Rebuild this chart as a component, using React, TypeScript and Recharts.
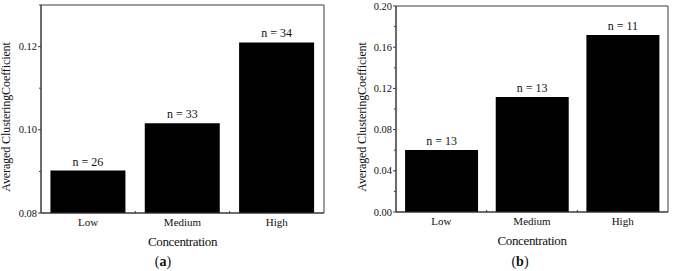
import { BarChart, Bar, XAxis, YAxis, LabelList, ReferenceArea } from 'recharts';

const categories = ['Low', 'Medium', 'High'];
const valuesA = [0.0902, 0.1016, 0.121];
const countsA = [26, 33, 34];
const valuesB = [0.0602, 0.1117, 0.1718];
const countsB = [13, 13, 11];

const majorTicksA = [0.08, 0.1, 0.12];
const minorTicksA = [0.09, 0.11, 0.13];
const majorTicksB = [0, 0.04, 0.08, 0.12, 0.16, 0.2];
const minorTicksB = [0.02, 0.06, 0.1, 0.14, 0.18];

const FONT = "'Liberation Serif', 'Times New Roman', serif";
const FRAME = '#3a3a3a';
const INK = '#111';

const YTick = (props: any) => {
  const { x, y, payload, majors } = props;
  const major = majors.includes(payload.value);
  return (
    <g>
      <line x1={x} x2={x - (major ? 3 : 2)} y1={y} y2={y} stroke={FRAME} />
      {major && (
        <text x={x - 4} y={y} dy="0.35em" textAnchor="end" fill={INK} style={{ fontFamily: FONT, fontSize: 10.5 }}>
          {payload.value.toFixed(2)}
        </text>
      )}
    </g>
  );
};

const XTick = (props: any) => {
  const { x, y, payload, index, step } = props;
  return (
    <g>
      <text x={x} y={y + 13} textAnchor="middle" fill={INK} style={{ fontFamily: FONT, fontSize: 11 }}>
        {payload.value}
      </text>
      {index < categories.length - 1 && (
        <line x1={x + step / 2} x2={x + step / 2} y1={y} y2={y - 2} stroke={FRAME} />
      )}
    </g>
  );
};

type PanelProps = {
  values: number[];
  counts: number[];
  majors: number[];
  minors: number[];
  domain: [number, number];
  width: number;
  top: number;
  bottom: number;
  right: number;
  axisWidth: number;
  labelX: number;
};

function Panel({ values, counts, majors, minors, domain, width, top, bottom, right, axisWidth, labelX }: PanelProps) {
  const data = categories.map((name, i) => ({ name, value: values[i], n: counts[i] }));
  const ticks = [...majors, ...minors].sort((a, b) => a - b);
  const height = 271;
  const step = (width - axisWidth - right) / categories.length;

  return (
    <BarChart
      width={width}
      height={height}
      data={data}
      margin={{ top, right, bottom: 0, left: 0 }}
      barCategoryGap="10%"
      style={{ fontFamily: FONT }}
    >
      <ReferenceArea y1={domain[0]} y2={domain[1]} fill="none" stroke={FRAME} strokeWidth={1} ifOverflow="visible" />
      <XAxis
        dataKey="name"
        height={height - bottom}
        stroke={FRAME}
        tickSize={0}
        tickMargin={0}
        tickLine={false}
        interval={0}
        tick={<XTick step={step} />}
        label={(p: any) => {
          const vb = p.viewBox || {};
          return (
            <text
              x={vb.x + vb.width / 2}
              y={vb.y + 33}
              textAnchor="middle"
              fill={INK}
              style={{ fontFamily: FONT, fontSize: 13, letterSpacing: -0.35 }}
            >
              Concentration
            </text>
          );
        }}
      />
      <YAxis
        type="number"
        domain={domain}
        ticks={ticks}
        interval={0}
        width={axisWidth}
        stroke={FRAME}
        tickSize={0}
        tickMargin={0}
        tickLine={false}
        tick={<YTick majors={majors} />}
        label={() => (
          <text
            x={labelX}
            y={117}
            transform={`rotate(-90, ${labelX}, 117)`}
            textAnchor="middle"
            fill={INK}
            style={{ fontFamily: FONT, fontSize: 12, letterSpacing: -0.1 }}
          >
            Averaged ClusteringCoefficient
          </text>
        )}
      />
      <Bar dataKey="value" fill="#000" isAnimationActive={false}>
        <LabelList
          dataKey="n"
          position="top"
          offset={5}
          formatter={(v: any) => `n = ${v}`}
          fill={INK}
          style={{ fontFamily: FONT, fontSize: 12 }}
        />
      </Bar>
    </BarChart>
  );
}

export default function App() {
  return (
    <div
      style={{
        position: 'absolute',
        left: 0,
        top: 0,
        width: 675,
        height: 271,
        background: '#fff',
        fontFamily: FONT,
        overflow: 'hidden',
      }}
    >
      <div style={{ position: 'absolute', left: 0, top: 0 }}>
        <Panel
          values={valuesA}
          counts={countsA}
          majors={majorTicksA}
          minors={minorTicksA}
          domain={[0.08, 0.13]}
          width={337}
          top={5}
          bottom={213}
          right={13}
          axisWidth={41}
          labelX={10}
        />
      </div>
      <div style={{ position: 'absolute', left: 337, top: 0 }}>
        <Panel
          values={valuesB}
          counts={countsB}
          majors={majorTicksB}
          minors={minorTicksB}
          domain={[0, 0.2]}
          width={338}
          top={6}
          bottom={212}
          right={7}
          axisWidth={59}
          labelX={29}
        />
      </div>
      <div style={{ position: 'absolute', left: 143, top: 254, width: 40, textAlign: 'center', fontSize: 14, lineHeight: '16px', color: INK }}>
        (<b>a</b>)
      </div>
      <div style={{ position: 'absolute', left: 500, top: 254, width: 40, textAlign: 'center', fontSize: 14, lineHeight: '16px', color: INK }}>
        (<b>b</b>)
      </div>
    </div>
  );
}
